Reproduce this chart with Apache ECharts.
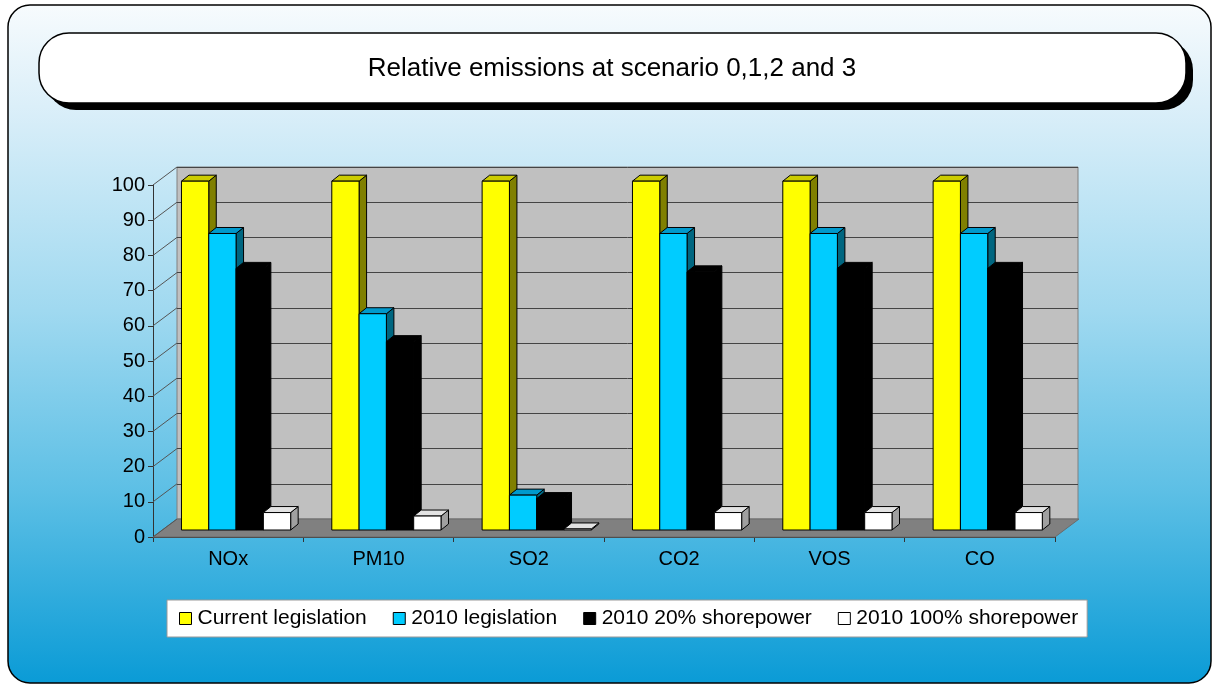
<!DOCTYPE html>
<html>
<head>
<meta charset="utf-8">
<script src="https://cdn.jsdelivr.net/npm/echarts@6/dist/echarts.min.js"></script>
<style>
html,body{margin:0;padding:0;background:#fff;}
#chart{width:1213px;height:684px;}
</style>
</head>
<body>
<div id="chart"></div>
<script>
// ---- data ----
const categories = ['NOx', 'PM10', 'SO2', 'CO2', 'VOS', 'CO'];
const seriesNames = ['Current legislation', '2010 legislation', '2010 20% shorepower', '2010 100% shorepower'];
const currentLegislation = [100, 100, 100, 100, 100, 100];
const legislation2010 = [85, 62, 10, 85, 85, 85];
const shorepower20 = [75, 54, 9, 74, 75, 75];
const shorepower100 = [5, 4, 0.3, 5, 5, 5];
const yTicks = [0, 10, 20, 30, 40, 50, 60, 70, 80, 90, 100];
const titleText = 'Relative emissions at scenario 0,1,2 and 3';

// ---- styles ----
const FONT = 'Liberation Sans, Arial, sans-serif';
const faceColors = [
  { front: '#ffff00', top: '#cccc00', side: '#808000' },
  { front: '#00ccff', top: '#0099cc', side: '#006680' },
  { front: '#000000', top: '#000000', side: '#000000' },
  { front: '#ffffff', top: '#e3e3e3', side: '#a0a0a0' }
];
const valueSets = [currentLegislation, legislation2010, shorepower20, shorepower100];
const WALL_DX = 24, WALL_DY = -18;   // depth of the back wall
const BAR_DX = 7.5, BAR_DY = -6;     // depth of each bar

const chart = echarts.init(document.getElementById('chart'), null, { renderer: 'canvas' });

function barRenderer(i) {
  const fc = faceColors[i];
  return function (params, api) {
    const c = api.value(0), v = api.value(1);
    const bw = api.size([1, 0])[0];
    const p = api.coord([c, v]);
    const p0 = api.coord([c, 0]);
    const w = bw * 0.1816;
    const x = p0[0] - bw * 0.3107 + i * w;
    const yb = p0[1] - 7;
    const yt = yb - (p0[1] - p[1]) * 0.991;
    const st = { stroke: '#000', lineWidth: 1 };
    return {
      type: 'group',
      children: [
        { type: 'polygon', shape: { points: [[x + w, yt], [x + w + BAR_DX, yt + BAR_DY], [x + w + BAR_DX, yb + BAR_DY], [x + w, yb]] },
          style: Object.assign({ fill: fc.side }, st) },
        { type: 'polygon', shape: { points: [[x, yt], [x + BAR_DX, yt + BAR_DY], [x + w + BAR_DX, yt + BAR_DY], [x + w, yt]] },
          style: Object.assign({ fill: fc.top }, st) },
        { type: 'rect', shape: { x: x, y: yt, width: w, height: yb - yt },
          style: Object.assign({ fill: fc.front }, st) }
      ]
    };
  };
}

const barSeries = seriesNames.map((name, i) => ({
  name: name,
  type: 'custom',
  xAxisIndex: 1,
  yAxisIndex: 1,
  z: 5 + i,
  itemStyle: { color: faceColors[i].front, borderColor: '#000', borderWidth: 1 },
  encode: { x: 0, y: 1 },
  renderItem: barRenderer(i),
  data: categories.map((_, k) => [k, valueSets[i][k]])
}));

const wallSeries = {
  name: 'wall',
  type: 'custom',
  xAxisIndex: 1,
  yAxisIndex: 1,
  silent: true,
  z: 3,
  encode: { x: 0, y: 1 },
  renderItem: function (params, api) {
    const bw = api.size([1, 0])[0];
    const p = api.coord([0, api.value(1)]);
    const xl = p[0] - bw / 2;
    return { type: 'line', shape: { x1: xl, y1: p[1], x2: xl + WALL_DX, y2: p[1] + WALL_DY },
      style: { stroke: '#555', lineWidth: 1 } };
  },
  data: yTicks.map(t => [0, t])
};

const floorSeries = {
  name: 'floor',
  type: 'custom',
  xAxisIndex: 1,
  yAxisIndex: 1,
  silent: true,
  z: 2,
  encode: { x: 0, y: 1 },
  renderItem: function (params, api) {
    const bw = api.size([1, 0])[0];
    const a = api.coord([0, 0]);
    const b = api.coord([categories.length - 1, 0]);
    const xl = a[0] - bw / 2, xr = b[0] + bw / 2, y0 = a[1];
    return { type: 'polygon',
      shape: { points: [[xl, y0], [xr, y0], [xr + WALL_DX, y0 + WALL_DY], [xl + WALL_DX, y0 + WALL_DY]] },
      style: { fill: '#808080', stroke: '#6a6a6a', lineWidth: 1 } };
  },
  data: [[0, 0]]
};

const option = {
  backgroundColor: '#ffffff',
  animation: false,
  textStyle: { fontFamily: FONT },
  title: {
    text: titleText,
    left: 612,
    textAlign: 'center',
    top: 56,
    padding: 0,
    textStyle: { fontFamily: FONT, fontSize: 26, fontWeight: 'normal', color: '#000' }
  },
  graphic: {
    elements: [
      { type: 'rect', z: -20, silent: true,
        shape: { x: 8, y: 5, width: 1203, height: 678, r: 22 },
        style: { fill: new echarts.graphic.LinearGradient(0, 0, 0, 1, [
          { offset: 0, color: '#f7fbfd' },
          { offset: 0.15, color: '#dbeff9' },
          { offset: 0.45, color: '#a0d9f0' },
          { offset: 0.72, color: '#5cbfe5' },
          { offset: 1, color: '#0a9bd6' }
        ]), stroke: '#000', lineWidth: 1.5 } },
      { type: 'rect', z: -19, silent: true,
        shape: { x: 46, y: 40, width: 1147, height: 70, r: 30 },
        style: { fill: '#000' } },
      { type: 'rect', z: -18, silent: true,
        shape: { x: 39, y: 33, width: 1147, height: 70, r: 30 },
        style: { fill: '#fff', stroke: '#000', lineWidth: 1.5 } }
    ]
  },
  legend: {
    data: seriesNames.map((n, i) => ({ name: n, itemStyle: { color: faceColors[i].front, borderColor: '#000', borderWidth: 1 } })),
    left: 167,
    top: 600,
    orient: 'horizontal',
    icon: 'path://M0 0H12V12H0Z',
    itemWidth: 14,
    itemHeight: 12,
    itemGap: 26,
    padding: [8, 9, 8, 12],
    backgroundColor: '#ffffff',
    borderColor: '#999',
    borderWidth: 1,
    selectedMode: false,
    textStyle: { fontFamily: FONT, fontSize: 21, color: '#000' }
  },
  grid: [
    { left: 177, top: 167, width: 901, height: 352, show: true, backgroundColor: '#c0c0c0', borderColor: '#808080', borderWidth: 1, z: 0 },
    { left: 153, top: 185, width: 902, height: 352, show: false }
  ],
  xAxis: [
    { type: 'category', gridIndex: 0, data: categories, show: false },
    { type: 'category', gridIndex: 1, data: categories,
      axisLine: { show: true, lineStyle: { color: '#333', width: 1 } },
      axisTick: { show: true, length: 5, lineStyle: { color: '#333' } },
      axisLabel: { fontFamily: FONT, fontSize: 20, color: '#000', margin: 12 },
      splitLine: { show: false } }
  ],
  yAxis: [
    { type: 'value', gridIndex: 0, min: 0, max: 100, interval: 10,
      axisLine: { show: false }, axisTick: { show: false }, axisLabel: { show: false },
      splitLine: { show: true, lineStyle: { color: '#444', width: 1 } } },
    { type: 'value', gridIndex: 1, min: 0, max: 100, interval: 10,
      axisLine: { show: true, lineStyle: { color: '#333', width: 1 } },
      axisTick: { show: true, length: 5, lineStyle: { color: '#333' } },
      axisLabel: { fontFamily: FONT, fontSize: 20, color: '#000', margin: 8 },
      splitLine: { show: false } }
  ],
  series: [floorSeries, wallSeries].concat(barSeries)
};

chart.setOption(option);
</script>
</body>
</html>
